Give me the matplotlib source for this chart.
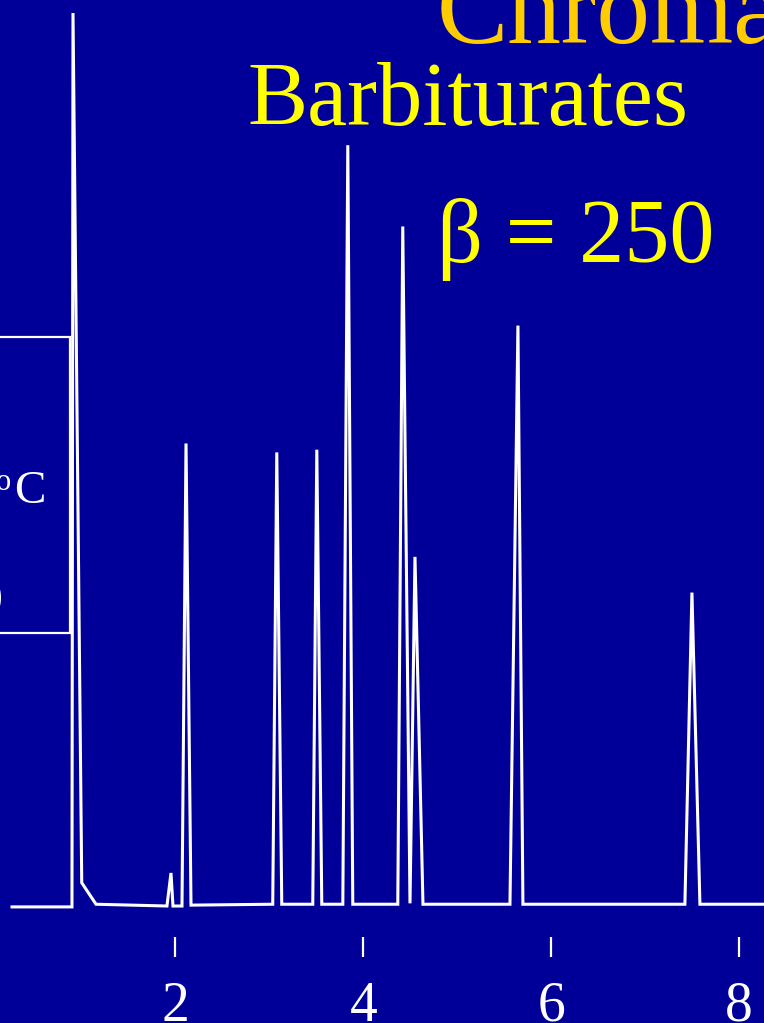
import matplotlib
matplotlib.use("Agg")
import matplotlib.pyplot as plt
from matplotlib.patches import Rectangle

# Chromatogram trace: retention time (min) vs detector response (solvent peak = 100)
trace_time = [0.261, 0.899, 0.910, 1.003, 1.155, 1.910, 1.953, 1.974,
              2.070, 2.113, 2.166,
              3.036, 3.079, 3.132,
              3.462, 3.505, 3.558,
              3.782, 3.835, 3.888,
              4.367, 4.420, 4.497, 4.550, 4.635,
              5.561, 5.646, 5.699,
              7.423, 7.498, 7.583,
              8.400]
trace_signal = [-0.1, -0.1, 100.0, 2.6, 0.2, 0.0, 3.7, 0.0,
                0.0, 51.8, 0.1,
                0.2, 50.8, 0.2,
                0.2, 51.1, 0.2,
                0.2, 85.2, 0.2,
                0.2, 76.1, 0.3, 39.1, 0.2,
                0.2, 65.0, 0.2,
                0.2, 35.1, 0.2,
                0.2]

tick_positions = [2, 4, 6, 8]
tick_labels = ["2", "4", "6", "8"]

BG = "#000099"
SERIF = ["Liberation Serif", "DejaVu Serif"]
W, H = 764, 1023


def fx(px):
    return px / W


def fy(py):
    return 1 - py / H


fig = plt.figure(figsize=(W / 100, H / 100), dpi=100, facecolor=BG)
ax = fig.add_axes([0, 0, 1, 1], facecolor=BG)

ax.plot(trace_time, trace_signal, color="white", lw=2.2, solid_joinstyle="miter",
        clip_on=False)

ax.set_xlim(0.133, 8.265)
ax.set_ylim(-13.1, 101.46)

# time axis: ticks only, no spine line
for side in ["top", "left", "right"]:
    ax.spines[side].set_visible(False)
ax.spines["bottom"].set_position(("data", -5.71))
ax.spines["bottom"].set_visible(False)
ax.set_yticks([])
ax.set_xticks(tick_positions)
ax.set_xticklabels(tick_labels, fontfamily=SERIF, fontsize=40, color="white")
ax.tick_params(axis="x", direction="in", length=14.5, width=1.6, color="white",
               pad=17)

# titles
ax.text(fx(437), fy(43), "Chromatography", transform=ax.transAxes,
        fontfamily=SERIF, fontsize=77, color="#FFCC00", ha="left", va="baseline")
ax.text(fx(247), fy(125), "Barbiturates", transform=ax.transAxes,
        fontfamily=SERIF, fontsize=65, color="#FFFF00", ha="left", va="baseline")
ax.text(fx(437), fy(262), "β = 250", transform=ax.transAxes,
        fontfamily=SERIF, fontsize=65, color="#FFFF00", ha="left", va="baseline")

# conditions box at the left
ax.add_patch(Rectangle((-0.2, fy(633)), 0.2 + fx(70), (633 - 337) / H,
                       transform=ax.transAxes, fill=False, edgecolor="white",
                       lw=1.6, clip_on=False))
ax.text(fx(46), fy(503), "C", transform=ax.transAxes,
        fontfamily=SERIF, fontsize=34, color="white", ha="right", va="baseline")
ax.text(fx(11), fy(490), "o", transform=ax.transAxes,
        fontfamily=SERIF, fontsize=22, color="white", ha="right", va="baseline")
ax.text(fx(2), fy(608), ")", transform=ax.transAxes,
        fontfamily=SERIF, fontsize=30, color="white", ha="right", va="baseline")

fig.savefig("out.png", dpi=100, facecolor=BG)
